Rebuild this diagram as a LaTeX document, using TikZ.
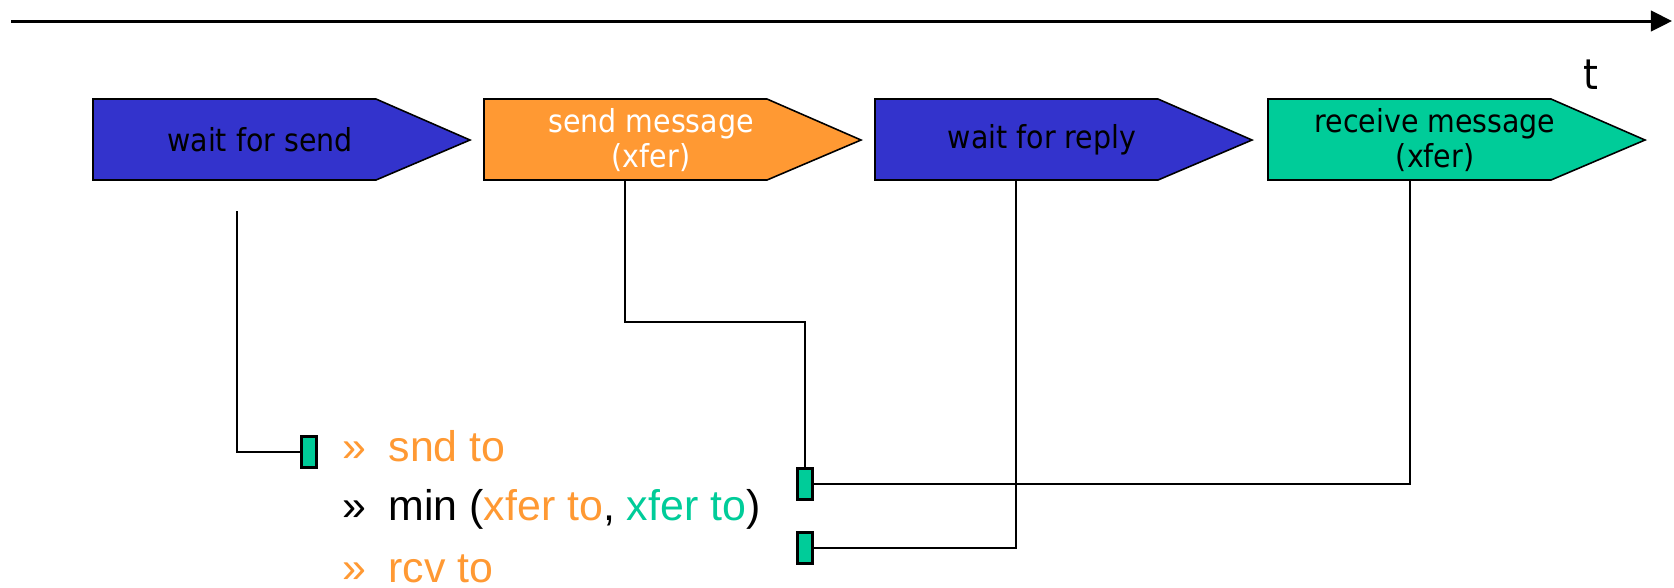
\documentclass[tikz,border=0pt]{standalone}
\usepackage{fontspec}
\setmainfont{Liberation Sans}
\newfontfamily\phasefont{DejaVu Sans Condensed}
\usetikzlibrary{arrows.meta}

\definecolor{waitblue}{RGB}{51,51,204}
\definecolor{xferorange}{RGB}{255,153,51}
\definecolor{rcvgreen}{RGB}{0,204,153}

\begin{document}
\begin{tikzpicture}[x=0.1mm, y=-0.1mm,
    phase/.style={draw, line width=0.45pt},
    label/.style={font=\phasefont\fontsize{9}{10}\selectfont, align=center},
    timer/.style={draw, line width=0.7pt, fill=rcvgreen, inner sep=0pt,
                  minimum width=1.5mm, minimum height=3.1mm},
    wire/.style={line width=0.6pt},
    item/.style={anchor=base west, inner sep=0pt, font=\fontsize{12.2}{14}\selectfont}
]
\useasboundingbox (0,0) rectangle (1674,587);

% Time axis
\coordinate (T0) at (11,21);
\coordinate (T1) at (1672,21);
\draw[line width=0.85pt, -{Triangle[length=6pt, width=5.8pt]}] (T0) -- (T1);
\node[font=\phasefont\fontsize{12}{14}\selectfont] (t) at (1591,75) {t};

% Phases
\foreach \l/\c in {93/waitblue, 484/xferorange, 875/waitblue, 1268/rcvgreen}
    \draw[phase, fill=\c] (\l,99) -- ++(283,0) -- ++(94,41) -- ++(-94,40) -- ++(-283,0) -- cycle;

\node[label] (wfs) at (260,140) {wait for send};
\node[label, text=white] (sm) at (651,140) {send message\\(xfer)};
\node[label] (wfr) at (1042,140) {wait for reply};
\node[label] (rm) at (1435,140) {receive message\\(xfer)};

% Where the timers hook in
\coordinate (wfs-out) at (237,211);
\coordinate (sm-out)  at (625,180);
\coordinate (wfr-out) at (1016,180);
\coordinate (rm-out)  at (1410,180);

% Timers
\node[timer] (snd)  at (309,452) {};
\node[timer] (xfer) at (805,484) {};
\node[timer] (rcv)  at (805,548) {};

\draw[wire] (wfs-out) |- (snd.west);
\draw[wire] (sm-out) -- ++(0,142) -| (xfer.north);
\draw[wire] (xfer.east) -| (rm-out);
\draw[wire] (rcv.east) -| (wfr-out);

% Timeouts
\node[item, text=xferorange] (m1) at (342,461) {»};
\node[item, text=xferorange] (i1) at (388,461) {snd to};
\node[item] (m2) at (342,520) {»};
\node[item] (i2) at (388,520) {min (\textcolor{xferorange}{xfer to}, \textcolor{rcvgreen}{xfer to})};
\node[item, text=xferorange] (m3) at (342,582) {»};
\node[item, text=xferorange] (i3) at (388,582) {rcv to};

\end{tikzpicture}
\end{document}
